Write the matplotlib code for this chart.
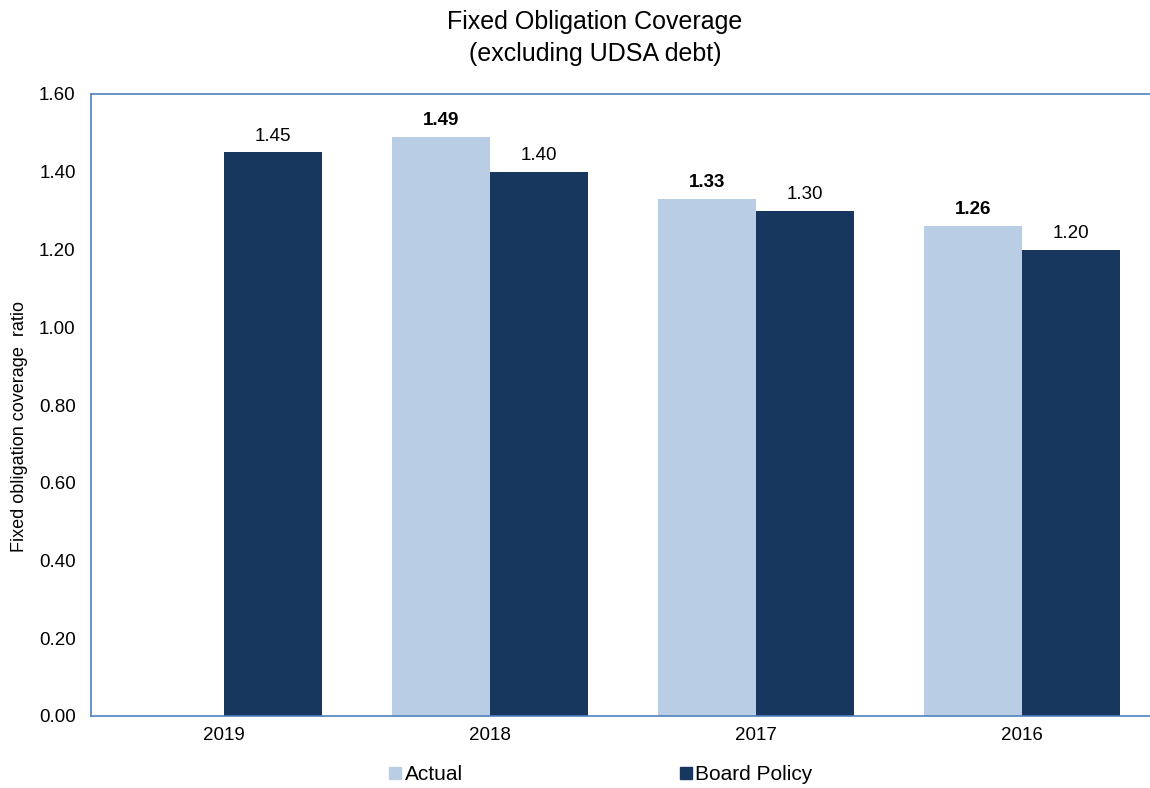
import matplotlib
matplotlib.use("Agg")
import matplotlib.pyplot as plt
import numpy as np
from matplotlib.lines import Line2D

plt.rcParams['font.family'] = ['Liberation Sans', 'DejaVu Sans']

years = ["2019", "2018", "2017", "2016"]
actual = [np.nan, 1.49, 1.33, 1.26]
board = [1.45, 1.40, 1.30, 1.20]
yticks = [0.0, 0.2, 0.4, 0.6, 0.8, 1.0, 1.2, 1.4, 1.6]

c_act = "#B9CDE5"
c_brd = "#17375E"
c_spine = "#4F81BD"

fig = plt.figure(figsize=(11.5, 7.88), dpi=100)
ax = fig.add_axes([91/1150, 72/788, 1064/1150, 622/788])

x = np.arange(len(years))
w = 0.368
ax.bar(x - w/2, actual, w, color=c_act, label="Actual")
ax.bar(x + w/2, board, w, color=c_brd, label="Board Policy")

fs = 13.5
for xi, v in zip(x, actual):
    if not np.isnan(v):
        ax.text(xi - w/2, v + 0.02, f"{v:.2f}", ha="center", va="bottom",
                fontsize=fs, fontweight="bold", color="black")
for xi, v in zip(x, board):
    ax.text(xi + w/2, v + 0.02, f"{v:.2f}", ha="center", va="bottom",
            fontsize=fs, color="black")

ax.set_xlim(-0.5, 3.5)
ax.set_ylim(0, 1.6)
ax.set_xticks(x)
ax.set_xticklabels(years, fontsize=fs)
ax.set_yticks(yticks)
ax.set_yticklabels([f"{t:.2f}" for t in yticks], fontsize=fs)
ax.tick_params(axis="y", length=0, pad=11)
ax.tick_params(axis="x", length=0, pad=8)
for s in ["left", "top", "bottom"]:
    ax.spines[s].set_color(c_spine)
    ax.spines[s].set_linewidth(1.2)
ax.spines["right"].set_visible(False)

ax.set_ylabel("Fixed obligation coverage  ratio", fontsize=13)
ax.yaxis.set_label_coords(-0.059, 0.465)

fig.text(595/1150, 1 - 38/788, "Fixed Obligation Coverage\n(excluding UDSA debt)",
         ha="center", va="center", fontsize=18, linespacing=1.45)

handles = [Line2D([], [], marker="s", linestyle="none", markersize=8, color=c_act),
           Line2D([], [], marker="s", linestyle="none", markersize=8, color=c_brd)]
fig.legend(handles, ["Actual", "Board Policy"], loc="center",
           bbox_to_anchor=(599/1150, 1 - 775/788), ncol=2, frameon=False,
           fontsize=15, handletextpad=0.0, columnspacing=10.25, handlelength=0.9)

fig.savefig("out.png", dpi=100)
